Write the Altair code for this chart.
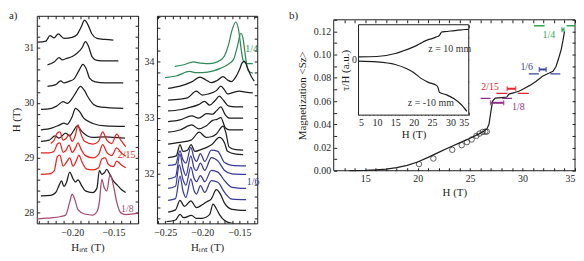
import altair as alt
import pandas as pd

FONT = "Liberation Serif"
INK = "#1e1e1e"
RED = "#e8231f"
MAUVE = "#a34b70"
GREEN_A = "#2f8a5a"
BLUE_A = "#3a3b98"
GREEN_B = "#2ea64f"
BLUE_B = "#34459c"
RED_B = "#e3262b"
PURPLE_B = "#8e2f86"

# ---------------- a) left panel: traces (H_int [T], offset trace on H axis [T])
A1_C1 = [(-0.242, 31.10), (-0.232, 31.12), (-0.227, 31.22), (-0.222, 31.18), (-0.217, 31.25), (-0.210, 31.17),
         (-0.200, 31.19), (-0.194, 31.24), (-0.189, 31.38), (-0.185, 31.50), (-0.181, 31.42), (-0.176, 31.25),
         (-0.170, 31.17), (-0.160, 31.15), (-0.150, 31.14)]
A1_C2 = [(-0.230, 30.69), (-0.222, 30.74), (-0.216, 30.82), (-0.212, 30.78), (-0.208, 30.80), (-0.200, 30.84),
         (-0.195, 30.89), (-0.188, 31.00), (-0.184, 31.11), (-0.180, 31.02), (-0.176, 30.84), (-0.170, 30.77),
         (-0.160, 30.76), (-0.144, 30.76)]
A1_C3 = [(-0.230, 30.30), (-0.220, 30.33), (-0.214, 30.40), (-0.210, 30.36), (-0.204, 30.39), (-0.198, 30.43),
         (-0.192, 30.58), (-0.187, 30.70), (-0.183, 30.62), (-0.179, 30.45), (-0.172, 30.38), (-0.160, 30.36),
         (-0.138, 30.36)]
A1_C4 = [(-0.238, 29.88), (-0.225, 29.90), (-0.219, 29.94), (-0.211, 30.02), (-0.206, 29.99), (-0.200, 30.08),
         (-0.195, 30.20), (-0.190, 30.30), (-0.185, 30.22), (-0.181, 30.11), (-0.174, 29.97), (-0.165, 29.92),
         (-0.138, 29.90)]
A1_C5 = [(-0.238, 29.51), (-0.225, 29.54), (-0.215, 29.60), (-0.210, 29.63), (-0.206, 29.61), (-0.200, 29.75),
         (-0.196, 29.90), (-0.191, 29.84), (-0.186, 29.72), (-0.180, 29.66), (-0.174, 29.62), (-0.160, 29.58),
         (-0.136, 29.57)]
A1_C6 = [(-0.238, 29.30), (-0.228, 29.32), (-0.221, 29.40), (-0.216, 29.36), (-0.208, 29.45), (-0.203, 29.40),
         (-0.198, 29.50), (-0.194, 29.58), (-0.189, 29.49), (-0.182, 29.40), (-0.175, 29.37), (-0.160, 29.38),
         (-0.150, 29.37), (-0.136, 29.36)]
A1_R1 = [(-0.226, 29.26), (-0.222, 29.32), (-0.218, 29.45), (-0.215, 29.47), (-0.211, 29.32), (-0.207, 29.36),
         (-0.204, 29.42), (-0.200, 29.30), (-0.196, 29.42), (-0.193, 29.60), (-0.190, 29.46), (-0.185, 29.30),
         (-0.175, 29.25), (-0.168, 29.30), (-0.163, 29.47), (-0.158, 29.32), (-0.152, 29.26), (-0.146, 29.43),
         (-0.141, 29.32), (-0.135, 29.20)]
A1_R2 = [(-0.238, 29.09), (-0.228, 29.09), (-0.222, 29.12), (-0.218, 29.25), (-0.215, 29.27), (-0.211, 29.10),
         (-0.207, 29.15), (-0.204, 29.23), (-0.200, 29.10), (-0.196, 29.18), (-0.193, 29.27), (-0.189, 29.15),
         (-0.184, 29.04), (-0.175, 29.00), (-0.168, 29.06), (-0.163, 29.24), (-0.158, 29.10), (-0.152, 29.04),
         (-0.146, 29.18), (-0.141, 29.10), (-0.135, 29.03)]
A1_R3 = [(-0.238, 28.70), (-0.228, 28.71), (-0.222, 28.76), (-0.218, 29.02), (-0.215, 29.05), (-0.211, 28.85),
         (-0.207, 28.92), (-0.203, 29.00), (-0.199, 28.85), (-0.195, 28.95), (-0.192, 29.05), (-0.188, 28.92),
         (-0.183, 28.80), (-0.175, 28.78), (-0.168, 28.82), (-0.164, 28.98), (-0.160, 29.00), (-0.156, 28.88),
         (-0.150, 28.84), (-0.146, 28.94), (-0.141, 28.88), (-0.135, 28.82)]
A1_C7 = [(-0.238, 28.31), (-0.226, 28.32), (-0.220, 28.37), (-0.216, 28.50), (-0.213, 28.58), (-0.210, 28.48),
         (-0.207, 28.55), (-0.203, 28.74), (-0.199, 28.62), (-0.196, 28.56), (-0.193, 28.60), (-0.188, 28.48),
         (-0.184, 28.40), (-0.175, 28.37), (-0.170, 28.45), (-0.167, 28.77), (-0.164, 28.70), (-0.161, 28.73),
         (-0.158, 28.79), (-0.155, 28.72), (-0.150, 28.58), (-0.145, 28.50), (-0.140, 28.42), (-0.135, 28.37)]
A1_P = [(-0.243, 27.89), (-0.235, 27.90), (-0.225, 27.91), (-0.215, 27.93), (-0.208, 27.96), (-0.203, 28.20),
        (-0.200, 28.34), (-0.197, 28.25), (-0.193, 28.06), (-0.185, 27.98), (-0.175, 27.96), (-0.170, 28.02),
        (-0.167, 28.20), (-0.164, 28.61), (-0.161, 28.45), (-0.158, 28.40), (-0.154, 28.70), (-0.150, 28.50),
        (-0.146, 28.20), (-0.141, 28.00), (-0.135, 27.97), (-0.126, 27.98), (-0.120, 27.99)]

# ---------------- a) right panel traces
A2_G1 = [(-0.237, 33.91), (-0.225, 33.94), (-0.212, 33.99), (-0.203, 33.97), (-0.195, 33.96), (-0.185, 33.97),
         (-0.177, 34.01), (-0.170, 34.10), (-0.165, 34.28), (-0.160, 34.55), (-0.155, 34.70), (-0.151, 34.55),
         (-0.148, 34.25), (-0.145, 34.02), (-0.140, 33.96), (-0.132, 33.96)]
A2_G2 = [(-0.250, 33.71), (-0.235, 33.74), (-0.217, 33.82), (-0.208, 33.80), (-0.200, 33.80), (-0.185, 33.83),
         (-0.175, 33.88), (-0.165, 33.95), (-0.158, 34.03), (-0.153, 34.25), (-0.148, 34.50), (-0.145, 34.40),
         (-0.142, 34.10), (-0.138, 33.83), (-0.132, 33.79)]
A2_B1 = [(-0.246, 33.52), (-0.230, 33.56), (-0.215, 33.63), (-0.203, 33.72), (-0.195, 33.67), (-0.188, 33.62),
         (-0.180, 33.66), (-0.172, 33.73), (-0.166, 33.67), (-0.161, 33.64), (-0.155, 33.72), (-0.150, 33.85),
         (-0.146, 33.98), (-0.143, 34.00), (-0.139, 33.88), (-0.134, 33.73), (-0.130, 33.65)]
A2_B2 = [(-0.246, 33.31), (-0.230, 33.33), (-0.220, 33.35), (-0.208, 33.47), (-0.200, 33.40), (-0.192, 33.42),
         (-0.181, 33.48), (-0.175, 33.56), (-0.170, 33.49), (-0.166, 33.42), (-0.160, 33.44), (-0.150, 33.47),
         (-0.140, 33.45), (-0.132, 33.44)]
A2_B3 = [(-0.246, 33.12), (-0.230, 33.14), (-0.220, 33.17), (-0.205, 33.23), (-0.197, 33.29), (-0.190, 33.22),
         (-0.183, 33.30), (-0.177, 33.38), (-0.171, 33.30), (-0.165, 33.21), (-0.155, 33.19), (-0.145, 33.19)]
A2_B4 = [(-0.246, 32.93), (-0.230, 32.96), (-0.214, 33.03), (-0.205, 32.99), (-0.194, 33.07), (-0.186, 33.06),
         (-0.181, 33.12), (-0.175, 33.19), (-0.169, 33.05), (-0.163, 32.99), (-0.155, 32.99), (-0.145, 32.99)]
A2_B5 = [(-0.246, 32.74), (-0.230, 32.78), (-0.214, 32.87), (-0.205, 32.80), (-0.195, 32.85), (-0.186, 32.95),
         (-0.180, 32.97), (-0.175, 33.00), (-0.169, 32.82), (-0.163, 32.78), (-0.155, 32.78), (-0.145, 32.78)]
A2_B6 = [(-0.246, 32.53), (-0.230, 32.56), (-0.215, 32.60), (-0.204, 32.74), (-0.195, 32.65), (-0.188, 32.66),
         (-0.181, 32.71), (-0.172, 32.85), (-0.168, 32.72), (-0.164, 32.48), (-0.155, 32.43), (-0.145, 32.42)]
A2_B7 = [(-0.246, 32.29), (-0.235, 32.32), (-0.230, 32.52), (-0.226, 32.40), (-0.220, 32.42), (-0.215, 32.52),
         (-0.210, 32.40), (-0.200, 32.44), (-0.194, 32.47), (-0.187, 32.52), (-0.177, 32.65), (-0.170, 32.55),
         (-0.166, 32.40), (-0.155, 32.35), (-0.145, 32.34)]
A2_L1 = [(-0.246, 32.15), (-0.236, 32.17), (-0.230, 32.41), (-0.226, 32.25), (-0.222, 32.19), (-0.2154, 32.47),
         (-0.211, 32.28), (-0.2078, 32.22), (-0.2025, 32.36), (-0.1967, 32.22), (-0.1878, 32.42), (-0.179, 32.40),
         (-0.1767, 32.36), (-0.170, 32.20), (-0.160, 32.15), (-0.141, 32.14)]
A2_L2 = [(-0.246, 31.91), (-0.236, 31.95), (-0.230, 32.35), (-0.226, 32.10), (-0.222, 31.97), (-0.2154, 32.32),
         (-0.211, 32.10), (-0.2078, 32.06), (-0.2025, 32.19), (-0.1967, 32.06), (-0.1878, 32.29), (-0.179, 32.23),
         (-0.170, 32.06), (-0.160, 32.00), (-0.141, 31.99)]
A2_L3 = [(-0.246, 31.74), (-0.236, 31.78), (-0.231, 32.16), (-0.226, 31.90), (-0.222, 31.80), (-0.2154, 32.12),
         (-0.211, 31.92), (-0.2078, 31.86), (-0.2025, 31.97), (-0.1967, 31.86), (-0.1878, 32.06), (-0.179, 32.03),
         (-0.170, 31.88), (-0.160, 31.76), (-0.141, 31.74)]
A2_L4 = [(-0.246, 31.53), (-0.236, 31.56), (-0.230, 31.96), (-0.226, 31.70), (-0.222, 31.58), (-0.2154, 31.91),
         (-0.211, 31.70), (-0.2078, 31.64), (-0.2025, 31.79), (-0.1967, 31.67), (-0.1878, 31.88), (-0.179, 31.85),
         (-0.170, 31.67), (-0.160, 31.55), (-0.141, 31.54)]
A2_B8 = [(-0.246, 31.32), (-0.236, 31.36), (-0.230, 31.53), (-0.224, 31.42), (-0.2154, 31.52), (-0.2078, 31.40),
         (-0.200, 31.45), (-0.1945, 31.50), (-0.188, 31.55), (-0.181, 31.72), (-0.176, 31.65), (-0.170, 31.48),
         (-0.160, 31.37), (-0.141, 31.35)]
A2_B9 = [(-0.248, 31.15), (-0.236, 31.18), (-0.230, 31.28), (-0.225, 31.22), (-0.2145, 31.26), (-0.208, 31.21),
         (-0.200, 31.21), (-0.190, 31.28), (-0.1856, 31.46), (-0.181, 31.38), (-0.177, 31.28), (-0.170, 31.17),
         (-0.160, 31.12), (-0.141, 31.11)]

A1_LABELS = [(-0.134, 29.05, "2/15", RED), (-0.133, 28.07, "1/8", MAUVE)]
A2_LABELS = [(-0.1337, 34.22, "1/4", GREEN_A), (-0.1317, 31.85, "1/6", BLUE_A)]

# ---------------- b) magnetization
LINE_H = [13.5, 15, 16, 17, 18, 19, 20, 21, 22, 23, 24, 25, 25.8, 26.3, 26.6, 26.8, 27.0, 27.15, 27.4, 28.0,
          28.5, 28.7, 29.2, 29.7, 30.2, 30.7, 31.3, 31.9, 32.4, 32.9, 33.2, 33.5, 33.7, 33.85, 34.0]
LINE_M = [0.0, 0.0003, 0.0008, 0.0013, 0.0026, 0.0046, 0.0075, 0.0115, 0.0158, 0.0200, 0.0240, 0.0280, 0.0315,
          0.0340, 0.0360, 0.0400, 0.0520, 0.0600, 0.0625, 0.0630, 0.0635, 0.0660, 0.0672, 0.0686, 0.0710, 0.0735,
          0.0770, 0.0814, 0.0835, 0.0857, 0.0900, 0.0986, 0.1050, 0.1120, 0.1200]
DOT_H = [20.13, 21.5, 23.3, 24.2, 24.7, 25.15, 25.6, 25.9, 26.2, 26.45, 26.6]
DOT_M = [0.0057, 0.0105, 0.018, 0.022, 0.0246, 0.0269, 0.030, 0.032, 0.0334, 0.0337, 0.0337]
LEVELS = [  # (H from, H to, M, colour)
    (31.1, 32.1, 0.1249, GREEN_B), (34.2, 35.0, 0.1249, GREEN_B),
    (30.6, 31.55, 0.0834, BLUE_B), (32.65, 33.6, 0.0834, BLUE_B),
    (27.5, 28.55, 0.0666, RED_B), (29.55, 30.6, 0.0666, RED_B),
    (26.0, 26.95, 0.0623, PURPLE_B), (28.05, 29.0, 0.0623, PURPLE_B),
]
BARS = [  # (H from, H to, M, colour)
    (33.75, 33.95, 0.1215, GREEN_B), (31.6, 32.25, 0.0872, BLUE_B),
    (28.54, 29.33, 0.0706, RED_B), (26.95, 28.2, 0.0585, PURPLE_B),
]
B_LABELS = [(32.5, 0.117, "1/4", GREEN_B), (30.4, 0.089, "1/6", BLUE_B),
            (26.9, 0.0725, "2/15", RED_B), (29.6, 0.0549, "1/8", PURPLE_B)]

# inset: torque
INSET_UP_H = [5, 10, 15, 17, 19, 20, 21, 22, 23, 24, 25, 26, 27, 27.3, 27.6, 29, 30, 32, 34, 35]
INSET_UP_V = [0.27, 0.30, 0.60, 0.85, 1.12, 1.27, 1.45, 1.65, 1.85, 2.0, 2.1, 2.25, 2.42, 2.6, 2.77, 2.82,
              2.87, 2.95, 3.02, 3.04]
INSET_LO_H = [5, 10, 15, 18, 20, 22, 24, 26.3, 26.7, 27.0, 29, 31, 33, 34.5]
INSET_LO_V = [-0.16, -0.23, -0.50, -0.90, -1.30, -1.90, -2.30, -2.63, -2.9, -3.30, -3.56, -3.96, -4.56, -5.23]
INSET_TEXT = [(24.0, 1.1, "z = 10 mm"), (18.4, -4.4, "z = -10 mm")]

# ---------------- helpers
XLAB = "abs(round(datum.value*100)) % 5 == 0 ? format(datum.value, '.2f') : ''"
YLAB = "abs(datum.value - round(datum.value)) < 0.01 ? format(datum.value, 'd') : ''"


def traces(curves):
    rows = []
    for cid, (color, pts) in enumerate(curves):
        for i, (x, y) in enumerate(pts):
            rows.append({"cid": cid, "i": i, "x": x, "y": y, "c": color})
    return pd.DataFrame(rows)


def spectrum_panel(curves, labels, xdom, ydom, width, ytitle, corner):
    df = traces(curves)
    x0 = round(xdom[0] - 0.004, 2)
    xticks = [round(x0 + 0.01 * k, 2) for k in range(20) if xdom[0] <= x0 + 0.01 * k <= xdom[1] + 1e-9]
    yticks = [round(27.0 + 0.2 * k, 1) for k in range(45) if ydom[0] <= 27.0 + 0.2 * k <= ydom[1]]
    xs = alt.Scale(domain=xdom, nice=False, zero=False)
    ys = alt.Scale(domain=ydom, nice=False, zero=False)
    tc = dict(tickSize=3, domain=False, offset=-3)
    ax_b = alt.Axis(orient="bottom", values=xticks, labelExpr=XLAB, title="Hᵢₙₜ (T)",
                    labelPadding=4, titlePadding=4, **tc)
    if ytitle:
        ax_l = alt.Axis(orient="left", values=yticks, labelExpr=YLAB, title=ytitle,
                        labelPadding=3, titlePadding=2, **tc)
    else:
        ax_l = alt.Axis(orient="left", values=yticks, labelExpr=YLAB, title=None, labelPadding=3, **tc)
    ax_t = alt.Axis(orient="top", values=xticks, labels=False, title=None, **tc)
    ax_r = alt.Axis(orient="right", values=yticks, labels=False, title=None, **tc)
    lines = alt.Chart(df).mark_line(strokeWidth=1.25, clip=True, interpolate="monotone").encode(
        x=alt.X("x:Q", scale=xs, axis=ax_b), y=alt.Y("y:Q", scale=ys, axis=ax_l),
        detail="cid:N", order="i:Q", color=alt.Color("c:N", scale=None))
    ghost = alt.Chart(df).mark_line(strokeOpacity=0, clip=True).encode(
        x=alt.X("x:Q", scale=xs, axis=ax_t), y=alt.Y("y:Q", scale=ys, axis=ax_r),
        detail="cid:N", order="i:Q")
    lab = alt.Chart(pd.DataFrame(labels, columns=["x", "y", "t", "c"])).mark_text(
        fontSize=10, font=FONT).encode(
        x=alt.X("x:Q", scale=xs, axis=None), y=alt.Y("y:Q", scale=ys, axis=None),
        text="t:N", color=alt.Color("c:N", scale=None))
    tag = alt.Chart(pd.DataFrame({"t": [corner[0]]})).mark_text(
        align="left", baseline="top", fontSize=11, font=FONT, color=INK).encode(
        x=alt.value(corner[1]), y=alt.value(corner[2]), text="t:N")
    return alt.layer(lines, ghost, lab, tag).resolve_axis(
        x="independent", y="independent").properties(width=width, height=209)


a1 = spectrum_panel(
    [(INK, A1_C1), (INK, A1_C2), (INK, A1_C3), (INK, A1_C4), (INK, A1_C5), (INK, A1_C6),
     (RED, A1_R1), (RED, A1_R2), (RED, A1_R3), (INK, A1_C7), (MAUVE, A1_P)],
    A1_LABELS, [-0.243, -0.120], [27.81, 31.58], 102, "H (T)", ("a)", -28, -6))
a2 = spectrum_panel(
    [(GREEN_A, A2_G1), (GREEN_A, A2_G2), (INK, A2_B1), (INK, A2_B2), (INK, A2_B3), (INK, A2_B4),
     (INK, A2_B5), (INK, A2_B6), (INK, A2_B7), (BLUE_A, A2_L1), (BLUE_A, A2_L2), (BLUE_A, A2_L3),
     (BLUE_A, A2_L4), (INK, A2_B8), (INK, A2_B9)],
    A2_LABELS, [-0.261, -0.126], [31.12, 34.81], 101, None, ("", 0, 0))

# ---------------- panel b
BW, BH = 301, 156
BX = alt.Scale(domain=[12, 35], range=[58, BW], nice=False, zero=False)
BY = alt.Scale(domain=[0, 0.13], range=[BH, 4], nice=False, zero=False)
IX = alt.Scale(domain=[5, 35], range=[83, 194], nice=False, zero=False)
IY = alt.Scale(domain=[-5.6, 3.5], range=[100, 9], nice=False, zero=False)

bx_ticks = list(range(13, 36))
by_ticks = [round(0.01 * k, 2) for k in range(14)]
ix_ticks = list(range(5, 36))
iy_ticks = [-4.4, -2.2, 0, 2.2]

tc = dict(tickSize=3, domain=False)
B_BOTTOM = alt.Axis(orient="bottom", values=bx_ticks, labelExpr="datum.value % 5 == 0 ? datum.value : ''",
                    title="H (T)", offset=-3, labelPadding=3, titlePadding=3, **tc)
B_LEFT = alt.Axis(orient="left", values=by_ticks,
                  labelExpr="round(datum.value*100) % 2 == 0 ? format(datum.value, '.2f') : ''",
                  title="Magnetization  <Sz>", offset=-61, labelPadding=3, titlePadding=6, **tc)
B_TOP = alt.Axis(orient="top", values=bx_ticks, labels=False, title=None, offset=-7, **tc)
B_RIGHT = alt.Axis(orient="right", values=by_ticks, labels=False, title=None, offset=-3, **tc)
I_BOTTOM = alt.Axis(orient="bottom", values=ix_ticks, labelExpr="datum.value % 5 == 0 ? datum.value : ''",
                    title="H (T)", offset=-59, labelPadding=2, titlePadding=2, **tc)
I_LEFT = alt.Axis(orient="left", values=iy_ticks, labelExpr="datum.value == 0 ? '0' : ''",
                  title="τ/H (a.u.)", offset=-86, labelPadding=2, titlePadding=1, **tc)
I_TOP = alt.Axis(orient="top", values=ix_ticks, labels=False, title=None, offset=-12, **tc)
I_RIGHT = alt.Axis(orient="right", values=iy_ticks, labels=False, title=None, offset=-110, **tc)

line_df = pd.DataFrame({"h": LINE_H, "m": LINE_M})
dot_df = pd.DataFrame({"h": DOT_H, "m": DOT_M})
lev_df = pd.DataFrame(LEVELS, columns=["h1", "h2", "m", "c"])
bar_df = pd.DataFrame(BARS, columns=["h1", "h2", "m", "c"])
cap_df = pd.concat([bar_df[["h1", "m", "c"]].rename(columns={"h1": "h"}),
                    bar_df[["h2", "m", "c"]].rename(columns={"h2": "h"})])
blab_df = pd.DataFrame(B_LABELS, columns=["h", "m", "t", "c"])
frame_df = pd.DataFrame({"x": [12], "x2": [35], "y": [0.0], "y2": [0.13]})
iframe_df = pd.DataFrame({"x": [5], "x2": [35], "y": [-5.6], "y2": [3.5]})
inset_df = pd.concat([pd.DataFrame({"h": INSET_UP_H, "v": INSET_UP_V, "s": "up"}),
                      pd.DataFrame({"h": INSET_LO_H, "v": INSET_LO_V, "s": "lo"})])
itext_df = pd.DataFrame(INSET_TEXT, columns=["h", "v", "t"])

NA = None
b_frame = alt.Chart(frame_df).mark_rect(fillOpacity=0, stroke=INK, strokeWidth=1).encode(
    x=alt.X("x:Q", scale=BX, axis=NA), x2="x2:Q", y=alt.Y("y:Q", scale=BY, axis=NA), y2="y2:Q")
b_line = alt.Chart(line_df).mark_line(color=INK, strokeWidth=1.2).encode(
    x=alt.X("h:Q", scale=BX, axis=B_BOTTOM), y=alt.Y("m:Q", scale=BY, axis=B_LEFT), order="h:Q")
b_ghost = alt.Chart(line_df).mark_line(strokeOpacity=0).encode(
    x=alt.X("h:Q", scale=BX, axis=B_TOP), y=alt.Y("m:Q", scale=BY, axis=B_RIGHT))
b_dots = alt.Chart(dot_df).mark_point(shape="circle", filled=False, size=30, color=INK, strokeWidth=1).encode(
    x=alt.X("h:Q", scale=BX, axis=NA), y=alt.Y("m:Q", scale=BY, axis=NA))
b_levels = alt.Chart(lev_df).mark_rule(strokeWidth=1.4, clip=True).encode(
    x=alt.X("h1:Q", scale=BX, axis=NA), x2="h2:Q", y=alt.Y("m:Q", scale=BY, axis=NA),
    color=alt.Color("c:N", scale=None))
b_bars = alt.Chart(bar_df).mark_rule(strokeWidth=2).encode(
    x=alt.X("h1:Q", scale=BX, axis=NA), x2="h2:Q", y=alt.Y("m:Q", scale=BY, axis=NA),
    color=alt.Color("c:N", scale=None))
b_caps = alt.Chart(cap_df).mark_tick(orient="vertical", size=5, thickness=1.5).encode(
    x=alt.X("h:Q", scale=BX, axis=NA), y=alt.Y("m:Q", scale=BY, axis=NA),
    color=alt.Color("c:N", scale=None))
b_labels = alt.Chart(blab_df).mark_text(fontSize=10, font=FONT).encode(
    x=alt.X("h:Q", scale=BX, axis=NA), y=alt.Y("m:Q", scale=BY, axis=NA), text="t:N",
    color=alt.Color("c:N", scale=None))
i_frame = alt.Chart(iframe_df).mark_rect(fill="white", stroke=INK, strokeWidth=1).encode(
    x=alt.X("x:Q", scale=IX, axis=NA), x2="x2:Q", y=alt.Y("y:Q", scale=IY, axis=NA), y2="y2:Q")
i_lines = alt.Chart(inset_df).mark_line(color=INK, strokeWidth=1.2, interpolate="monotone").encode(
    x=alt.X("h:Q", scale=IX, axis=I_BOTTOM), y=alt.Y("v:Q", scale=IY, axis=I_LEFT),
    detail="s:N", order="h:Q")
i_ghost = alt.Chart(inset_df).mark_line(strokeOpacity=0).encode(
    x=alt.X("h:Q", scale=IX, axis=I_TOP), y=alt.Y("v:Q", scale=IY, axis=I_RIGHT), detail="s:N")
i_text = alt.Chart(itext_df).mark_text(fontSize=10, font=FONT, align="left", color="#333").encode(
    x=alt.X("h:Q", scale=IX, axis=NA), y=alt.Y("v:Q", scale=IY, axis=NA), text="t:N")
b_tag = alt.Chart(pd.DataFrame({"t": ["b)"]})).mark_text(
    align="left", baseline="top", fontSize=11, font=FONT, color=INK).encode(
    x=alt.value(13), y=alt.value(-6), text="t:N")

b = alt.layer(b_frame, b_line, b_ghost, b_levels, b_bars, b_caps, b_dots, b_labels,
              i_frame, i_lines, i_ghost, i_text, b_tag).resolve_scale(
    x="independent", y="independent").properties(
    width=BW, height=BH, view=alt.ViewBackground(strokeOpacity=0))

chart = alt.hconcat(a1, a2, b, spacing=19, bounds="flush").properties(padding=0).configure_axis(
    labelFont=FONT, titleFont=FONT, labelFontSize=10, titleFontSize=11, titleFontWeight="normal",
    labelColor=INK, titleColor=INK, tickColor=INK, grid=False, tickWidth=1
).configure_view(stroke=INK, strokeWidth=1).configure_text(font=FONT)

chart.save("out.html", embed_options={"renderer": "svg", "actions": False})
